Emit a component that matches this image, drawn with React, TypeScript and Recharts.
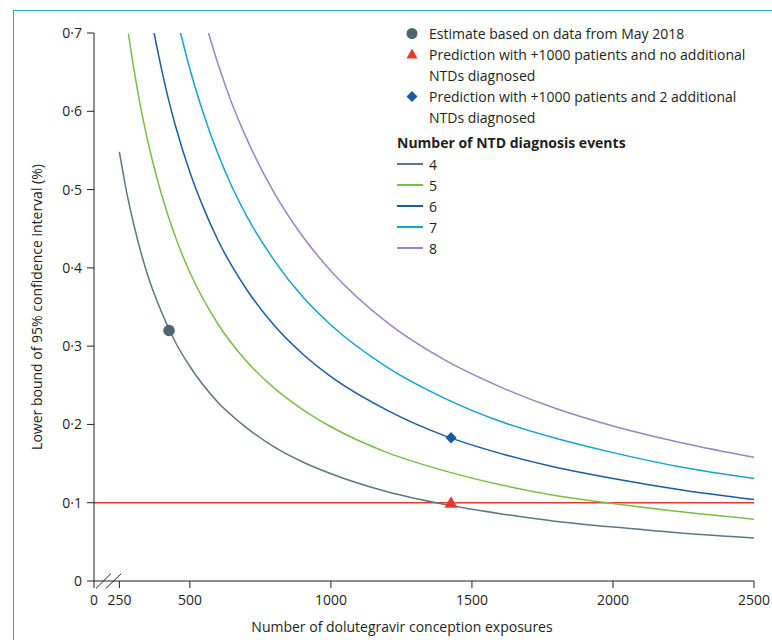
import React from 'react';
import {
  ComposedChart,
  Line,
  Scatter,
  XAxis,
  YAxis,
  ReferenceLine,
} from 'recharts';

// ---- tick labels ----
const xTicks = [160, 250, 500, 1000, 1500, 2000, 2500];
const xTickLabels = ['0', '250', '500', '1000', '1500', '2000', '2500'];
const yTicks = [0, 0.1, 0.2, 0.3, 0.4, 0.5, 0.6, 0.7];
const yTickLabels = ['0', '0·1', '0·2', '0·3', '0·4', '0·5', '0·6', '0·7'];

// ---- series: number of NTD diagnosis events ----
const eventCounts = ['4', '5', '6', '7', '8'];
const eventColors = ['#5e7784', '#7cbd45', '#1c5ca6', '#14a3cf', '#9c84c4'];

const x4 = [250, 275, 300, 350, 400, 450, 500, 600, 700, 800, 900, 1000, 1200, 1400, 1600, 1800, 2000, 2250, 2500];
const y4 = [0.548, 0.498, 0.457, 0.391, 0.343, 0.304, 0.274, 0.228, 0.196, 0.171, 0.152, 0.137, 0.114, 0.098, 0.086, 0.076, 0.069, 0.061, 0.055];

const x5 = [282, 300, 325, 350, 400, 450, 500, 600, 700, 800, 900, 1000, 1200, 1400, 1600, 1800, 2000, 2250, 2500];
const y5 = [0.699, 0.657, 0.606, 0.563, 0.493, 0.438, 0.394, 0.328, 0.281, 0.246, 0.219, 0.197, 0.164, 0.141, 0.123, 0.109, 0.099, 0.088, 0.079];

const x6 = [373, 400, 425, 450, 500, 550, 600, 700, 800, 900, 1000, 1200, 1400, 1600, 1800, 2000, 2250, 2500];
const y6 = [0.7, 0.653, 0.614, 0.58, 0.522, 0.475, 0.435, 0.373, 0.326, 0.29, 0.261, 0.218, 0.186, 0.163, 0.145, 0.131, 0.116, 0.104];

const x7 = [467, 500, 550, 600, 650, 700, 800, 900, 1000, 1200, 1400, 1600, 1800, 2000, 2250, 2500];
const y7 = [0.7, 0.654, 0.595, 0.545, 0.503, 0.467, 0.409, 0.363, 0.327, 0.273, 0.234, 0.204, 0.182, 0.164, 0.145, 0.131];

const x8 = [566, 600, 650, 700, 800, 900, 1000, 1200, 1400, 1600, 1800, 2000, 2250, 2500];
const y8 = [0.7, 0.66, 0.609, 0.566, 0.495, 0.44, 0.396, 0.33, 0.283, 0.248, 0.22, 0.198, 0.176, 0.158];

// ---- highlighted points ----
const estimatePoint = [{ x: 426, y: 0.32 }];
const predNoNtd = [{ x: 1426, y: 0.1 }];
const pred2Ntd = [{ x: 1426, y: 0.183 }];
const thresholdY = 0.1;

// axis break marks (data units)
const breakMarks = [
  [{ x: 167, y: -0.0095 }, { x: 220, y: 0.0095 }],
  [{ x: 202, y: -0.0095 }, { x: 257, y: 0.0095 }],
];

const zip = (xs: number[], ys: number[]) => xs.map((x, i) => ({ x, y: ys[i] }));
const curves = [zip(x4, y4), zip(x5, y5), zip(x6, y6), zip(x7, y7), zip(x8, y8)];

const FONT = "'Open Sans', sans-serif";
const INK = '#231f20';
const RED = '#e8392f';
const DOT = '#4d6672';
const DIAMOND = '#1b59a2';

const CircleShape = (p: any) => <circle cx={p.cx} cy={p.cy} r={5.8} fill={DOT} />;
const TriangleShape = (p: any) => (
  <polygon
    points={`${p.cx},${p.cy - 6.5} ${p.cx - 6.5},${p.cy + 5} ${p.cx + 6.5},${p.cy + 5}`}
    fill={RED}
  />
);
const DiamondShape = (p: any) => (
  <polygon
    points={`${p.cx},${p.cy - 5.8} ${p.cx + 5.5},${p.cy} ${p.cx},${p.cy + 5.8} ${p.cx - 5.5},${p.cy}`}
    fill={DIAMOND}
  />
);

const markerLegend = [
  { kind: 'circle', lines: ['Estimate based on data from May 2018'] },
  { kind: 'triangle', lines: ['Prediction with +1000 patients and no additional', 'NTDs diagnosed'] },
  { kind: 'diamond', lines: ['Prediction with +1000 patients and 2 additional', 'NTDs diagnosed'] },
];

const MarkerIcon = ({ kind }: { kind: string }) => (
  <svg width={32} height={21} style={{ display: 'block' }}>
    {kind === 'circle' && <circle cx={15} cy={10.5} r={5.5} fill={DOT} />}
    {kind === 'triangle' && <polygon points="15,4.5 9.5,14.5 20.5,14.5" fill={RED} />}
    {kind === 'diamond' && <polygon points="15,5 20.5,10.5 15,16 9.5,10.5" fill={DIAMOND} />}
  </svg>
);

const LegendBox = () => (
  <div
    style={{
      position: 'absolute',
      left: 397,
      top: 22.5,
      fontFamily: FONT,
      fontSize: 14,
      lineHeight: '21px',
      color: INK,
      whiteSpace: 'nowrap',
    }}
  >
    {markerLegend.map((m, i) => (
      <div key={i} style={{ display: 'flex' }}>
        <div style={{ width: 32, flex: '0 0 32px' }}>
          <MarkerIcon kind={m.kind} />
        </div>
        <div>
          {m.lines.map((l, j) => (
            <div key={j}>{l}</div>
          ))}
        </div>
      </div>
    ))}
    <div style={{ fontWeight: 700, marginTop: 4, height: 22 }}>Number of NTD diagnosis events</div>
    {eventCounts.map((c, i) => (
      <div key={c} style={{ display: 'flex', alignItems: 'center', height: 21 }}>
        <div style={{ width: 26, height: 1.5, background: eventColors[i], marginRight: 6 }} />
        <div>{c}</div>
      </div>
    ))}
  </div>
);

export default function App() {
  return (
    <div
      style={{
        position: 'absolute',
        left: 0,
        top: 0,
        width: 772,
        height: 640,
        overflow: 'hidden',
        background: '#fff',
      }}
    >
      <div
        style={{
          position: 'absolute',
          left: 13,
          top: 10,
          width: 800,
          height: 700,
          borderTop: '1px solid #2aa7c9',
          borderLeft: '1px solid #2aa7c9',
        }}
      />
      <div style={{ position: 'absolute', left: 0, top: 0 }}>
        <ComposedChart
          width={772}
          height={640}
          margin={{ top: 33, right: 18, bottom: 0, left: 0 }}
          style={{ fontFamily: FONT }}
        >
          <XAxis
            type="number"
            dataKey="x"
            domain={[160, 2500]}
            ticks={xTicks}
            tickFormatter={(v: number) => xTickLabels[xTicks.indexOf(v)] ?? String(v)}
            height={59}
            tickSize={7}
            tickMargin={7}
            stroke={INK}
            tick={{ fill: INK, fontSize: 14, fontFamily: FONT }}
            allowDataOverflow
            label={{
              value: 'Number of dolutegravir conception exposures',
              position: 'insideBottom',
              offset: 8,
              dx: -22,
              style: { fill: INK, fontSize: 14, fontFamily: FONT },
            }}
          />
          <YAxis
            type="number"
            domain={[0, 0.7]}
            ticks={yTicks}
            tickFormatter={(v: number) => yTickLabels[yTicks.indexOf(v)] ?? String(v)}
            width={94}
            tickSize={7}
            tickMargin={5}
            stroke={INK}
            tick={{ fill: INK, fontSize: 14, fontFamily: FONT }}
            allowDataOverflow
            label={{
              value: 'Lower bound of 95% confidence interval (%)',
              angle: -90,
              position: 'insideLeft',
              offset: 37.5,
              style: { textAnchor: 'middle', fill: INK, fontSize: 14, fontFamily: FONT },
            }}
          />
          <ReferenceLine y={thresholdY} stroke={RED} strokeWidth={1.5} />
          {breakMarks.map((seg, i) => (
            <ReferenceLine key={i} segment={seg} stroke={INK} strokeWidth={1} ifOverflow="visible" />
          ))}
          {curves.map((d, i) => (
            <Line
              key={eventCounts[i]}
              data={d}
              dataKey="y"
              type="monotone"
              stroke={eventColors[i]}
              strokeWidth={1.5}
              dot={false}
              activeDot={false}
              isAnimationActive={false}
            />
          ))}
          <Scatter data={estimatePoint} dataKey="y" shape={CircleShape} isAnimationActive={false} />
          <Scatter data={predNoNtd} dataKey="y" shape={TriangleShape} isAnimationActive={false} />
          <Scatter data={pred2Ntd} dataKey="y" shape={DiamondShape} isAnimationActive={false} />
        </ComposedChart>
      </div>
      <LegendBox />
    </div>
  );
}
